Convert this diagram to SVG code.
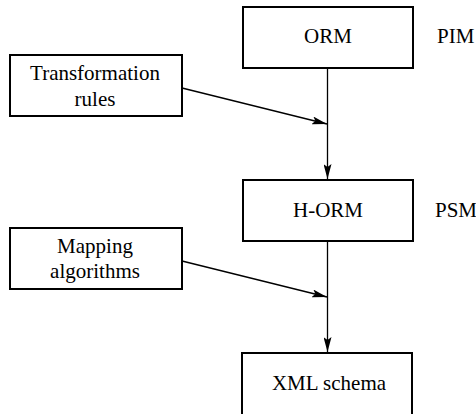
<svg xmlns="http://www.w3.org/2000/svg" width="476" height="414" viewBox="0 0 476 414">
<style>
.box{fill:#fff;stroke:#000;stroke-width:2}
text{font-family:'Liberation Serif','DejaVu Serif',serif;font-size:21px;fill:#000}
.t{text-anchor:middle}
.c{stroke:#000;stroke-width:1.3;fill:none}
</style>
<defs>
<marker id="ah" markerWidth="16" markerHeight="8" refX="15" refY="4" orient="auto" markerUnits="userSpaceOnUse">
<path d="M0,0 L15,4 L0,8 L3,4 Z" fill="#000"/>
</marker>
</defs>
<rect width="476" height="414" fill="#fff"/>
<g id="connectors">
<line class="c" x1="327.5" y1="68" x2="327.5" y2="179" marker-end="url(#ah)"/>
<line class="c" x1="182" y1="88" x2="327" y2="124" marker-end="url(#ah)"/>
<line class="c" x1="327.5" y1="241" x2="327.5" y2="352" marker-end="url(#ah)"/>
<line class="c" x1="182" y1="261" x2="327" y2="297" marker-end="url(#ah)"/>
</g>
<g id="orm">
<rect class="box" x="243" y="7" width="170" height="61"/>
<text class="t" x="328" y="43">ORM</text>
</g>
<g id="pim"><text x="437" y="43">PIM</text></g>
<g id="transformation-rules">
<rect class="box" x="10" y="55" width="172" height="61"/>
<text class="t" x="95" y="80">Transformation</text>
<text class="t" x="95" y="106">rules</text>
</g>
<g id="horm">
<rect class="box" x="243" y="180" width="170" height="61"/>
<text class="t" x="328" y="217">H-ORM</text>
</g>
<g id="psm"><text x="435" y="217">PSM</text></g>
<g id="mapping-algorithms">
<rect class="box" x="10" y="228" width="172" height="61"/>
<text class="t" x="95" y="253">Mapping</text>
<text class="t" x="95" y="278">algorithms</text>
</g>
<g id="xml-schema">
<rect class="box" x="242" y="353" width="170" height="70"/>
<text class="t" x="329" y="390">XML schema</text>
</g>
</svg>
